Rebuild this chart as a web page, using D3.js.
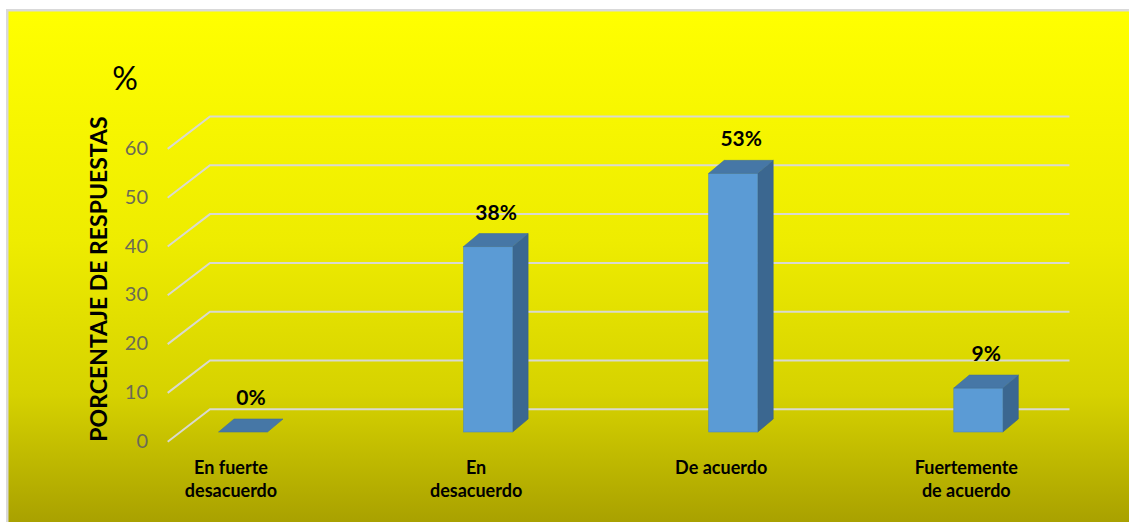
<!DOCTYPE html>
<html>
<head>
<meta charset="utf-8">
<script src="https://cdn.jsdelivr.net/npm/d3@7"></script>
<style>
  html, body { margin: 0; padding: 0; background: #ffffff; }
  svg { display: block; }
  text { font-family: Lato, "Open Sans", "Liberation Sans", sans-serif; }
</style>
</head>
<body>
<svg id="chart" width="1129" height="522"></svg>
<script>
// Survey answers and their share of responses (%)
const categories = [
  ["En fuerte", "desacuerdo"],
  ["En", "desacuerdo"],
  ["De acuerdo"],
  ["Fuertemente", "de acuerdo"]
];
const values = [0, 38, 53, 9];
const valueLabels = ["0%", "38%", "53%", "9%"];
const yTicks = [0, 10, 20, 30, 40, 50, 60];
const yTitle = "PORCENTAJE DE RESPUESTAS";
const unitLabel = "%";

const svg = d3.select("#chart");
const W = 1129, H = 522;

// background: frame + vertical yellow gradient
const defs = svg.append("defs");
const grad = defs.append("linearGradient")
  .attr("id", "bg").attr("x1", 0).attr("y1", 0).attr("x2", 0).attr("y2", 1);
[["0%", "#ffff00"], ["45%", "#eeec00"], ["75%", "#d6d200"], ["100%", "#a9a100"]]
  .forEach(([o, c]) => grad.append("stop").attr("offset", o).attr("stop-color", c));

svg.append("rect").attr("x", 6).attr("y", 9).attr("width", W - 6).attr("height", H - 9)
  .attr("fill", "#d9d9d9");
svg.append("rect").attr("x", 8.5).attr("y", 11.5).attr("width", W - 8.5).attr("height", H - 11.5)
  .attr("fill", "url(#bg)");

// scales (front plane of the bars)
const y = d3.scaleLinear().domain([0, 60]).range([432, 139.2]);
const x = d3.scalePoint().domain(d3.range(categories.length)).range([243, 978.3]);
const barW = 49;

// 3D geometry: wall/floor depth, and bar depth
const wall = { dx: 42.3, dy: -32.4, backFromBar: -22.7 };
const wallLeft = 167.7, wallRight = 1069.5;
const depth = { dx: 15.5, dy: -13 };

// gridlines on the back wall with the slanted side-wall segment
const grid = svg.append("g");
yTicks.forEach(t => {
  const yb = y(t) + wall.backFromBar;
  const yf = yb - wall.dy;
  grid.append("polyline")
    .attr("points", `${wallLeft},${yf} ${wallLeft + wall.dx},${yb} ${wallRight},${yb}`)
    .attr("fill", "none").attr("stroke", "#d9d9d0").attr("stroke-width", 2);
  grid.append("text")
    .attr("x", 148).attr("y", yf + 1)
    .attr("text-anchor", "end").attr("dominant-baseline", "middle")
    .attr("font-size", 20).attr("fill", "#6b6b55")
    .text(t);
});

// bars as prisms: front, side, top faces
const bars = svg.append("g");
values.forEach((v, i) => {
  const x0 = x(i) - barW / 2, x1 = x(i) + barW / 2;
  const yt = y(v), yb = y(0);
  const dx = depth.dx, dy = depth.dy;
  if (v > 0) {
    bars.append("path")
      .attr("d", `M${x1},${yt}L${x1 + dx},${yt + dy}L${x1 + dx},${yb + dy}L${x1},${yb}Z`)
      .attr("fill", "#3b6790").attr("stroke", "#386088").attr("stroke-width", 0.6);
    bars.append("rect")
      .attr("x", x0).attr("y", yt).attr("width", barW).attr("height", yb - yt)
      .attr("fill", "#5b9bd5").attr("stroke", "#4f88bb").attr("stroke-width", 0.6);
  }
  bars.append("path")
    .attr("d", `M${x0},${yt}L${x1},${yt}L${x1 + dx},${yt + dy}L${x0 + dx},${yt + dy}Z`)
    .attr("fill", "#4677a6").attr("stroke", "#42709c").attr("stroke-width", 0.6);

  // value label above the bar
  svg.append("text")
    .attr("x", x(i) + 8).attr("y", yt - 27)
    .attr("text-anchor", "middle").attr("font-size", 21).attr("font-weight", "bold")
    .attr("fill", "#000").text(valueLabels[i]);
});

// category labels
categories.forEach((lines, i) => {
  const t = svg.append("text")
    .attr("x", x(i) - 12).attr("y", 474)
    .attr("text-anchor", "middle").attr("font-size", 18).attr("font-weight", "bold")
    .attr("fill", "#000");
  lines.forEach((ln, k) => t.append("tspan").attr("x", x(i) - 12).attr("dy", k === 0 ? 0 : 22.5).text(ln));
});

// axis title and unit
svg.append("text")
  .attr("transform", "translate(107,279) rotate(-90)")
  .attr("text-anchor", "middle").attr("font-size", 23).attr("font-weight", "bold")
  .attr("fill", "#000").text(yTitle);
svg.append("text")
  .attr("x", 125).attr("y", 90).attr("text-anchor", "middle")
  .attr("font-size", 32).attr("fill", "#000").text(unitLabel);
</script>
</body>
</html>
